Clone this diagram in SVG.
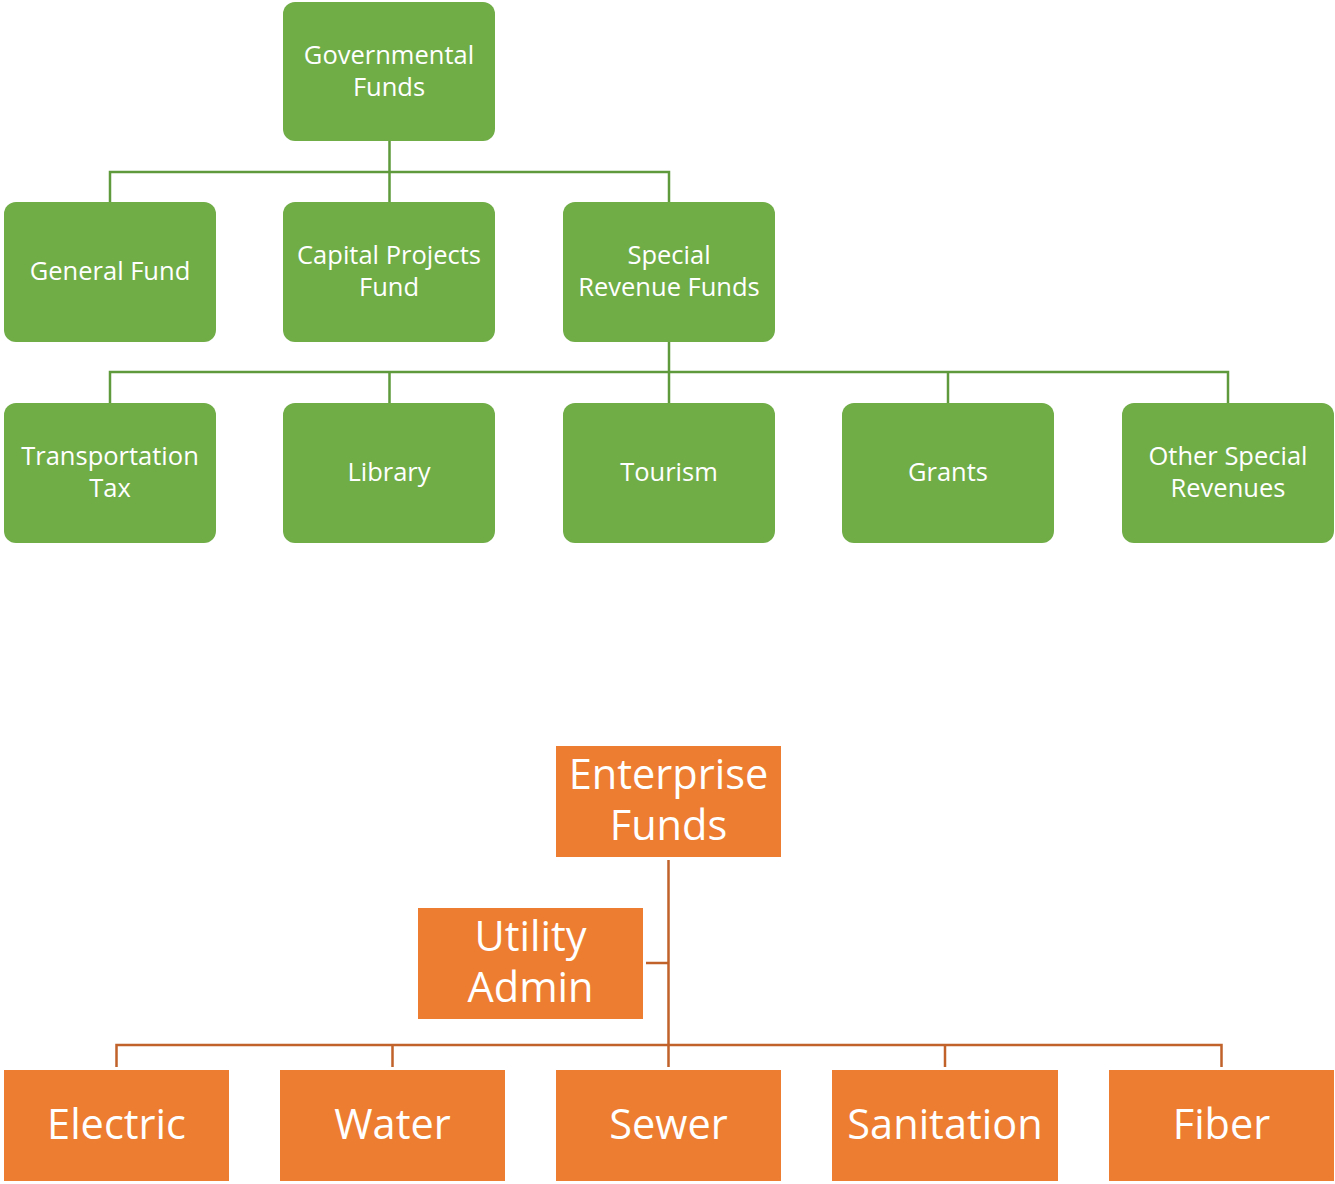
<svg xmlns="http://www.w3.org/2000/svg" width="1335" height="1184" viewBox="0 0 1335 1184">
<style>
.g rect{fill:#70ad47;}
.o rect{fill:#ed7d31;}
.gt{font-family:"Open Sans","Liberation Sans",Arial,sans-serif;font-size:25.5px;fill:#fff;text-anchor:middle;}
.ot{font-family:"Open Sans","Liberation Sans",Arial,sans-serif;font-size:41.5px;fill:#fff;text-anchor:middle;}
.gc{stroke:#5f9a3c;stroke-width:2.5;fill:none;}
.oc{stroke:#c0622a;stroke-width:2.5;fill:none;}
</style>
<rect width="1335" height="1184" fill="#fff"/>
<g id="connectors">
<path class="gc" d="M389.5 141V172M110 202V172H669V202M389.5 172V202"/>
<path class="gc" d="M669 342V372M110 403V372H1228V403M389.5 372V403M669 372V403M948 372V403"/>
<path class="oc" d="M668.5 860V1067M646 963H668.5M116.5 1067V1045H1221.5V1067M392.5 1045V1067M945 1045V1067"/>
</g>
<g id="governmental-funds" class="g"><rect x="283" y="2" width="212" height="139" rx="12"/><text class="gt" x="389" y="64">Governmental</text><text class="gt" x="389" y="96">Funds</text></g>
<g id="general-fund" class="g"><rect x="4" y="202" width="212" height="140" rx="12"/><text class="gt" x="110" y="280">General Fund</text></g>
<g id="capital-projects-fund" class="g"><rect x="283" y="202" width="212" height="140" rx="12"/><text class="gt" x="389" y="264">Capital Projects</text><text class="gt" x="389" y="296">Fund</text></g>
<g id="special-revenue-funds" class="g"><rect x="563" y="202" width="212" height="140" rx="12"/><text class="gt" x="669" y="264">Special</text><text class="gt" x="669" y="296">Revenue Funds</text></g>
<g id="transportation-tax" class="g"><rect x="4" y="403" width="212" height="140" rx="12"/><text class="gt" x="110" y="465">Transportation</text><text class="gt" x="110" y="497">Tax</text></g>
<g id="library" class="g"><rect x="283" y="403" width="212" height="140" rx="12"/><text class="gt" x="389" y="481">Library</text></g>
<g id="tourism" class="g"><rect x="563" y="403" width="212" height="140" rx="12"/><text class="gt" x="669" y="481">Tourism</text></g>
<g id="grants" class="g"><rect x="842" y="403" width="212" height="140" rx="12"/><text class="gt" x="948" y="481">Grants</text></g>
<g id="other-special-revenues" class="g"><rect x="1122" y="403" width="212" height="140" rx="12"/><text class="gt" x="1228" y="465">Other Special</text><text class="gt" x="1228" y="497">Revenues</text></g>
<g id="enterprise-funds" class="o"><rect x="556" y="746" width="225" height="111"/><text class="ot" x="668.5" y="789">Enterprise</text><text class="ot" x="668.5" y="840">Funds</text></g>
<g id="utility-admin" class="o"><rect x="418" y="908" width="225" height="111"/><text class="ot" x="530.5" y="951">Utility</text><text class="ot" x="530.5" y="1002">Admin</text></g>
<g id="electric" class="o"><rect x="4" y="1070" width="225" height="111"/><text class="ot" x="116.5" y="1139">Electric</text></g>
<g id="water" class="o"><rect x="280" y="1070" width="225" height="111"/><text class="ot" x="392.5" y="1139">Water</text></g>
<g id="sewer" class="o"><rect x="556" y="1070" width="225" height="111"/><text class="ot" x="668.5" y="1139">Sewer</text></g>
<g id="sanitation" class="o"><rect x="832" y="1070" width="226" height="111"/><text class="ot" x="945" y="1139">Sanitation</text></g>
<g id="fiber" class="o"><rect x="1109" y="1070" width="225" height="111"/><text class="ot" x="1221.5" y="1139">Fiber</text></g>
</svg>
